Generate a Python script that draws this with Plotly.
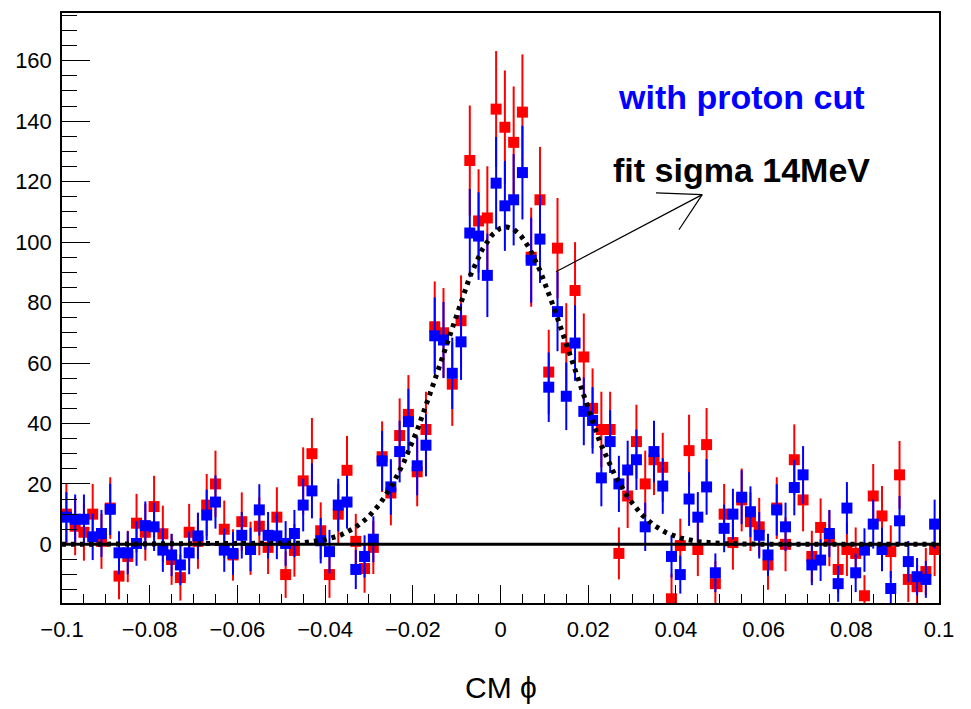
import numpy as np
import plotly.graph_objects as go

# ---------------- data ----------------
x_min, x_max, n_bins = -0.1, 0.1, 100

red_values = [10, 6, 4, 10, 1, 12, -10.5, -4, 7, 4,
              12.5, 3.5, -5, -11, 4, 1, 13, 20, 5, -3.5,
              7.5, -1.3, 6, -1, 9, -10, -2, 21, 30, 4.5,
              -10, 10, 24.5, 1, -8, -1, 29, 17, 36, 43,
              24, 38, 72, 70, 53, 74, 127, 107, 108, 144,
              138, 133, 143, 95, 114, 57, 98, 65, 84, 62,
              45, 38, 38, -3, 16, 34, 20, 28, 25.5, -18,
              -0.4, 31, -1.7, 33, -13, 10, 0.6, 14.7, 7.5, 5.8,
              -6.8, 12, 0, 28, 14.7, -4, 5.6, 2, -8.3, -1.7,
              -3, -17, 16, 9.4, -2.4, 23, -11.6, -14, -9, -1.7]

red_errors = [10, 9.6, 9.4, 10, 9.1, 10.2, 7.7, 8.5, 9.7, 9.4,
              10.2, 9.3, 8.4, 7.6, 9.4, 9.1, 10.3, 11, 9.5, 8.5,
              9.7, 8.8, 9.6, 8.8, 9.9, 7.7, 8.7, 11.1, 11.8, 9.4,
              7.7, 10, 11.4, 9.1, 8, 8.8, 11.7, 10.7, 12.3, 13,
              11.4, 12.5, 15, 14.8, 13.8, 15, 18.2, 17.1, 17.1, 19.2,
              18.8, 18.5, 19.1, 16.4, 17.5, 14, 16.6, 14.8, 16, 14.4,
              13.2, 12.5, 12.5, 8.6, 10.6, 12.2, 11, 11.7, 11.4, 8.2,
              8.9, 11.9, 8.8, 12.1, 7.4, 10, 9, 10.4, 9.7, 9.6,
              8.2, 10.2, 8.9, 11.7, 10.4, 8.5, 9.6, 9.2, 7.9, 8.8,
              8.6, 6.8, 10.6, 9.9, 8.7, 11.2, 7.5, 7.2, 7.8, 8.8]

blue_values = [9, 8.3, 8.3, 2.5, 3.6, 11.6, -2.8, -2.8, 0.3, 6.2,
               5.8, -1.9, -3.5, -6.8, -2.8, 2.8, 9.7, 14, -1.9, -3,
               3, -1.7, 11.4, 3, 2.8, 0.3, 3.6, 13, 17.7, 1.2,
               -2.4, 13, 14, -8.3, -4, 1.7, 27.6, 19, 30.7, 40.6,
               26, 32.8, 69, 67.6, 56.6, 67, 103, 102, 89, 119.5,
               112, 114, 123, 94, 101, 52, 77, 49, 66.6, 44,
               41, 22, 34, 20, 24.6, 28, 5.8, 30.7, 19.3, -4,
               -10, 15, 9, 19, -9.4, 5.3, 10, 15.6, 10.8, 3,
               -3.5, 11.4, 5.8, 18.8, 23, -6.8, -5.2, 3.6, -13, 12,
               -9.4, -1.9, 6.7, -1.7, -14.6, 7.8, -5.7, -10.7, -11.6, 6.7]

blue_errors = [8.3, 8.2, 8.2, 7.7, 7.8, 8.5, 7.1, 7.1, 7.4, 8,
               8, 7.2, 7, 6.7, 7.1, 7.7, 8.4, 8.8, 7.2, 7.1,
               7.7, 7.2, 8.5, 7.7, 7.7, 7.4, 7.8, 8.7, 9.1, 7.5,
               7.2, 8.7, 8.8, 6.5, 7, 7.6, 9.9, 9.2, 10.2, 10.9,
               9.8, 10.3, 12.7, 12.6, 11.8, 12.6, 14.6, 14.5, 13.8, 15.3,
               14.9, 15.1, 15.5, 14.1, 14.5, 11.5, 13.1, 11.2, 12.5, 11.2,
               11, 9.4, 10.4, 9.3, 9.7, 10, 8, 10.2, 9.2, 7,
               6.3, 8.9, 8.3, 9.2, 6.4, 7.9, 8.4, 8.9, 8.4, 7.7,
               7, 8.5, 8, 9.2, 9.5, 6.7, 6.9, 7.8, 6, 8.6,
               6.4, 7.2, 8.1, 7.2, 5.8, 8.2, 6.8, 6.2, 6.1, 8.1]

# Gaussian fit parameters
fit_amplitude = 105
fit_mean = 0.0013
fit_sigma = 0.0142

x_tick_vals = [-0.1, -0.08, -0.06, -0.04, -0.02, 0, 0.02, 0.04, 0.06, 0.08, 0.1]
x_tick_text = ["\u22120.1", "\u22120.08", "\u22120.06", "\u22120.04", "\u22120.02", "0",
               "0.02", "0.04", "0.06", "0.08", "0.1"]
y_tick_vals = [0, 20, 40, 60, 80, 100, 120, 140, 160]
y_tick_text = ["0", "20", "40", "60", "80", "100", "120", "140", "160"]

# ---------------- derived ----------------
edges = np.linspace(x_min, x_max, n_bins + 1)
centers = 0.5 * (edges[:-1] + edges[1:])
fit_x = np.linspace(x_min, x_max, 801)
fit_y = fit_amplitude * np.exp(-0.5 * ((fit_x - fit_mean) / fit_sigma) ** 2)

RED = "#ff0000"
BLUE = "#0000ff"
FONT = "Liberation Sans, Arial, Helvetica, sans-serif"

fig = go.Figure()

for vals, errs, col in [(red_values, red_errors, RED), (blue_values, blue_errors, BLUE)]:
    fig.add_trace(go.Scatter(
        x=centers, y=vals, mode="markers",
        marker=dict(symbol="square", size=11, color=col, line=dict(width=0)),
        error_y=dict(type="data", array=errs, visible=True, color=col,
                     thickness=2, width=0),
        showlegend=False, hoverinfo="skip",
    ))

fig.add_trace(go.Scatter(
    x=fit_x, y=fit_y, mode="lines",
    line=dict(color="black", width=5, dash="4px,5px"),
    showlegend=False, hoverinfo="skip",
))

# zero line
fig.add_shape(type="line", xref="paper", x0=0, x1=1, yref="y", y0=0, y1=0,
              line=dict(color="black", width=3), layer="above")

# arrow (shaft + open head)
arrow_tail = (0.01266, 90.2)
arrow_tip = (0.0460, 115.7)
wing_a = (0.03546, 116.3)
wing_b = (0.0407, 104.1)
for (xa, ya) in [arrow_tail, wing_a, wing_b]:
    fig.add_shape(type="line", xref="x", yref="y", x0=xa, y0=ya,
                  x1=arrow_tip[0], y1=arrow_tip[1],
                  line=dict(color="black", width=1.2), layer="above")

fig.add_annotation(text="<b>with proton cut</b>", xref="paper", yref="paper",
                   x=0.775, y=0.858, xanchor="center", yanchor="middle",
                   showarrow=False, font=dict(family=FONT, size=34, color=BLUE))
fig.add_annotation(text="<b>fit sigma 14MeV</b>", xref="paper", yref="paper",
                   x=0.775, y=0.734, xanchor="center", yanchor="middle",
                   showarrow=False, font=dict(family=FONT, size=34, color="black"))
fig.add_annotation(text="CM \u03d5", xref="paper", yref="paper",
                   x=0.5, y=-0.144, xanchor="center", yanchor="middle",
                   showarrow=False, font=dict(family=FONT, size=30, color="black"))

fig.update_layout(
    width=971, height=709, autosize=False,
    margin=dict(l=62, r=32, t=13, b=106, pad=0),
    paper_bgcolor="white", plot_bgcolor="white",
    font=dict(family=FONT, size=22, color="black"),
    xaxis=dict(range=[x_min, x_max], tickvals=x_tick_vals, ticktext=x_tick_text,
               ticks="inside", ticklen=18, tickwidth=1.2, tickcolor="black",
               minor=dict(ticks="inside", ticklen=9, dtick=0.005, tick0=0,
                          tickcolor="black", tickwidth=1.2, showgrid=False),
               showline=True, linecolor="black", linewidth=1.5, mirror=True,
               showgrid=False, zeroline=False, ticklabelstandoff=6),
    yaxis=dict(range=[-19.4, 175.8], tickvals=y_tick_vals, ticktext=y_tick_text,
               ticks="inside", ticklen=28, tickwidth=1.2, tickcolor="black",
               minor=dict(ticks="inside", ticklen=15, dtick=5, tick0=0,
                          tickcolor="black", tickwidth=1.2, showgrid=False),
               showline=True, linecolor="black", linewidth=1.5, mirror=True,
               showgrid=False, zeroline=False, ticklabelstandoff=4),
)

fig.write_html("out.html")
